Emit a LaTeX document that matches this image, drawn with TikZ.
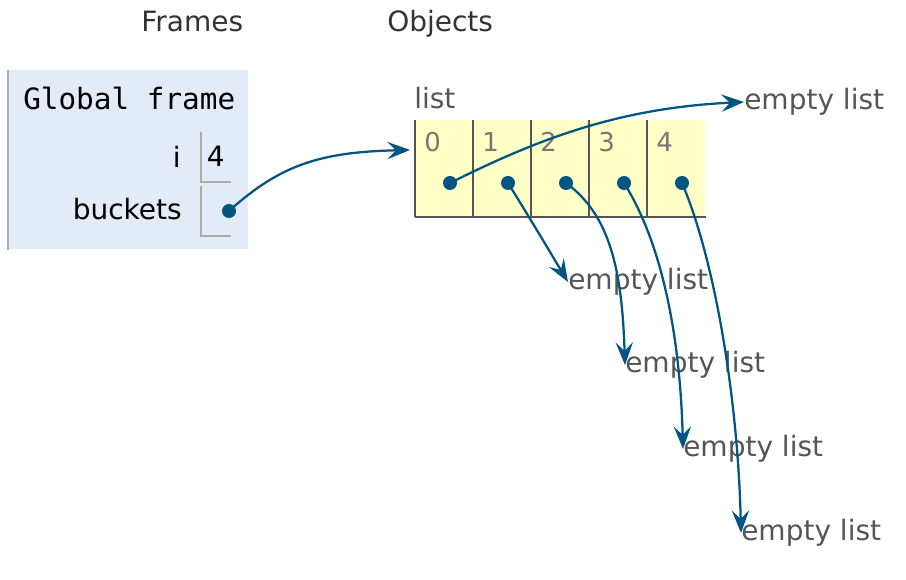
\documentclass[tikz,border=0pt]{standalone}
\usepackage{fontspec}
\setmainfont{DejaVu Sans}
\setmonofont{DejaVu Sans Mono}
\usetikzlibrary{arrows.meta,positioning,calc}

\definecolor{ptblue}{HTML}{005583}
\definecolor{framefill}{HTML}{E2EBF6}
\definecolor{frameline}{HTML}{A6B3B6}
\definecolor{boxline}{HTML}{AAAAAA}
\definecolor{listfill}{HTML}{FFFFC6}
\definecolor{listline}{HTML}{555555}
\definecolor{headtext}{HTML}{333333}
\definecolor{labeltext}{HTML}{555555}
\definecolor{idxtext}{HTML}{777777}

\begin{document}
\begin{tikzpicture}[
    x=0.75pt, y=-0.75pt,
    % Base styles
    every node/.style={font=\fontsize{21}{25}\selectfont, inner sep=0pt},
    header/.style={text=headtext, anchor=base west},
    listtag/.style={text=labeltext, anchor=base west},
    idx/.style={text=idxtext, anchor=base west, font=\fontsize{19.5}{23}\selectfont},
    varname/.style={anchor=base east},
    framebox/.style={fill=framefill, minimum width=180pt, minimum height=134.25pt, anchor=north west},
    valbox/.style={minimum width=21.75pt, minimum height=36.75pt, anchor=north west},
    cell/.style={fill=listfill, minimum width=43.5pt, minimum height=72pt, anchor=north west},
    dot/.style={circle, fill=ptblue, minimum size=10.5pt},
    emptytag/.style={text=labeltext, anchor=west},
    ptr/.style={ptblue, line width=1.7pt, -{Stealth[length=17pt, width=13pt, inset=6.5pt]}}
]
\useasboundingbox (0,0) rectangle (906,580);

% ==================== HEADERS ====================
\node[header] (hframes) at (141,32) {Frames};
\node[header] (hobjects) at (387,32) {Objects};

% ==================== GLOBAL FRAME ====================
\node[framebox] (gframe) at (8,70) {};
\draw[frameline, line width=1.5pt] (gframe.north west) -- (gframe.south west);
\node[anchor=base west, font=\fontsize{22}{26}\ttfamily] (gtitle) at (23,110) {Global frame};
% variables
\node[varname] (vi) at (181,168) {i};
\node[varname] (vbuckets) at (182,220) {buckets};
\node[valbox] (ival) at (201,132) {4};
\node[valbox] (bval) at (201,186) {};
\foreach \b in {ival, bval}
    \draw[boxline, line width=1.5pt] (\b.north west) -- (\b.south west) -- (\b.south east);
\node[dot] (bdot) at ($(bval.north west)+(28,25)$) {};

% ==================== LIST OBJECT ====================
\node[listtag] (ltag) at (414,109) {list};
\foreach \k in {0,...,4} {
    \node[cell] (cell\k) at ({415+58*\k},120) {};
    \draw[listline, line width=1.5pt] (cell\k.north west) -- (cell\k.south west);
    \node[idx] (idx\k) at ($(cell\k.north west)+(9,32)$) {\k};
    \node[dot] (p\k) at ($(cell\k.north west)+(35,63)$) {};
}
\draw[listline, line width=1.5pt] (cell0.south west) -- (cell4.south east);
\coordinate (lstin) at ($(cell0.north west)+(-5,30)$);

% empty lists
\node[emptytag] (e0) at (744,102) {empty list};
\node[emptytag] (e1) at (568,282) {empty list};
\node[emptytag] (e2) at (625,365) {empty list};
\node[emptytag] (e3) at (683,449) {empty list};
\node[emptytag] (e4) at (741,533) {empty list};

% ==================== POINTERS ====================
\draw[ptr] (bdot.center) .. controls (280,165) and (320,152) .. (lstin);
\draw[ptr] (p0.center) .. controls (540,138) and (620,108) .. (e0.west);
\draw[ptr] (p1.center) .. controls (528,215) and (550,252) .. (e1.west);
\draw[ptr] (p2.center) .. controls (610,215) and (622,270) .. (e2.west);
\draw[ptr] (p3.center) .. controls (660,240) and (680,330) .. (e3.west);
\draw[ptr] (p4.center) .. controls (715,260) and (738,400) .. (e4.west);

\end{tikzpicture}
\end{document}
